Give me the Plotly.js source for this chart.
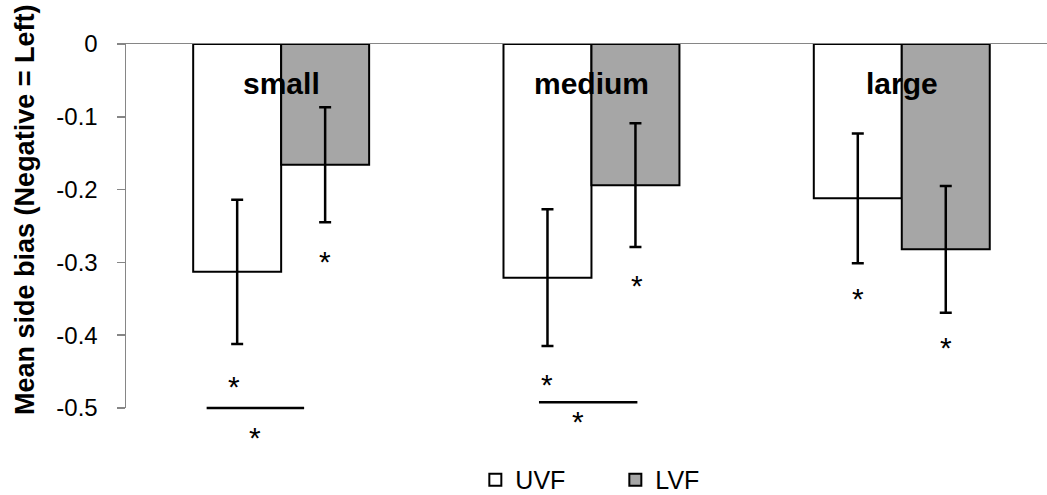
<!DOCTYPE html>
<html>
<head>
<meta charset="utf-8">
<script src="https://cdn.plot.ly/plotly-3.0.1.min.js"></script>
<style>html,body{margin:0;padding:0;background:#fff;}#chart{width:1047px;height:495px;}</style>
</head>
<body>
<div id="chart"></div>
<script>
// ---- data ----
const categories = ['small', 'medium', 'large'];
const categoryPos = [0, 1, 2];
const uvfMeans = [-0.313, -0.321, -0.212];
const lvfMeans = [-0.166, -0.194, -0.282];
const uvfErr = [0.099, 0.094, 0.089];
const lvfErr = [0.079, 0.085, 0.087];
const yTickVals = [0, -0.1, -0.2, -0.3, -0.4, -0.5];
const yTickText = ['0', '-0.1', '-0.2', '-0.3', '-0.4', '-0.5'];
// significance asterisks (x in category units, y in data units)
const starX = [-0.151, -0.084, 0.142, 0.858, 0.957, 1.148, 1.858, 2.142];
const starY = [-0.467, -0.537, -0.294, -0.464, -0.514, -0.328, -0.345, -0.413];
// significance lines under small and medium
const sigX0 = [-0.245, 0.826];
const sigX1 = [0.074, 1.148];
const sigY = [-0.5, -0.492];

const FONT = 'Liberation Sans, Arial, Helvetica, sans-serif';
const AXIS_GRAY = '#868686';
const Y_MIN = -0.5;

const traces = [
  {
    type: 'bar', name: 'UVF', x: categoryPos, y: uvfMeans,
    marker: {color: '#ffffff', line: {color: '#000000', width: 2}},
    error_y: {type: 'data', array: uvfErr, visible: true, color: '#000000', thickness: 2.5, width: 6}
  },
  {
    type: 'bar', name: 'LVF', x: categoryPos, y: lvfMeans,
    marker: {color: '#a6a6a6', line: {color: '#000000', width: 2}},
    error_y: {type: 'data', array: lvfErr, visible: true, color: '#000000', thickness: 2.5, width: 6}
  }
];

const annotations = [];
categories.forEach((c, i) => {
  annotations.push({
    x: categoryPos[i], y: -0.054, xref: 'x', yref: 'y', text: '<b>' + c + '</b>',
    showarrow: false, xanchor: 'center', yanchor: 'middle',
    font: {family: FONT, size: 30, color: '#000000'}
  });
});
// asterisks: text sits at the (data-referenced) arrow tail; the invisible head is kept inside the axis range
starX.forEach((sx, i) => {
  annotations.push({
    xref: 'x', yref: 'y', axref: 'x', ayref: 'y',
    x: sx, y: Math.max(starY[i], Y_MIN), ax: sx, ay: starY[i],
    text: '*', showarrow: true, arrowcolor: 'rgba(0,0,0,0)', arrowwidth: 0.1, arrowhead: 0,
    xanchor: 'center', yanchor: 'middle', yshift: -3,
    font: {family: FONT, size: 30, color: '#000000'}
  });
});
// significance lines drawn as head-less annotation arrows (not clipped by the plot area)
sigX0.forEach((x0, i) => {
  annotations.push({
    xref: 'x', yref: 'y', axref: 'x', ayref: 'y',
    x: sigX1[i], y: sigY[i], ax: x0, ay: sigY[i],
    text: '', showarrow: true, arrowhead: 0, arrowwidth: 2.5, arrowcolor: '#000000', standoff: 0, startstandoff: 0
  });
});
annotations.push({
  x: -0.1097, y: 0.544, xref: 'paper', yref: 'paper',
  text: '<b>Mean side bias (Negative = Left)</b>', textangle: -90,
  showarrow: false, xanchor: 'center', yanchor: 'middle',
  font: {family: FONT, size: 27, color: '#000000'}
});

const layout = {
  width: 1047, height: 495,
  margin: {l: 126, r: 0, t: 44, b: 87, pad: 0, autoexpand: false},
  paper_bgcolor: '#ffffff', plot_bgcolor: '#ffffff',
  font: {family: FONT, color: '#000000'},
  barmode: 'group', bargap: 0.433, bargroupgap: 0,
  showlegend: true,
  legend: {
    orientation: 'h', x: 0.3793, xanchor: 'left', y: -0.1975, yanchor: 'middle',
    font: {family: FONT, size: 25, color: '#000000'},
    entrywidth: 95, entrywidthmode: 'pixels', borderwidth: 0, bgcolor: 'rgba(0,0,0,0)'
  },
  xaxis: {
    range: [-0.5, 2.468], side: 'top', showline: true, linecolor: AXIS_GRAY, linewidth: 1.5,
    showticklabels: false, ticks: '', showgrid: false, zeroline: false, fixedrange: true
  },
  yaxis: {
    range: [Y_MIN, 0], tickmode: 'array', tickvals: yTickVals, ticktext: yTickText,
    showline: true, linecolor: AXIS_GRAY, linewidth: 1.5,
    ticks: 'outside', ticklen: 8, tickcolor: AXIS_GRAY, tickwidth: 1.5,
    ticklabelstandoff: 14,
    tickfont: {family: FONT, size: 24, color: '#000000'},
    showgrid: false, zeroline: false, fixedrange: true
  },
  annotations: annotations
};

Plotly.newPlot('chart', traces, layout, {displayModeBar: false, staticPlot: true});
</script>
</body>
</html>
